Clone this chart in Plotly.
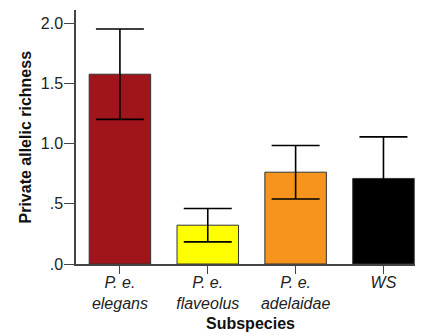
import plotly.graph_objects as go

categories = ["P. e. elegans", "P. e. flaveolus", "P. e. adelaidae", "WS"]
tick_labels = ["<i>P. e.<br>elegans</i>", "<i>P. e.<br>flaveolus</i>", "<i>P. e.<br>adelaidae</i>", "<i>WS</i>"]
means = [1.575, 0.322, 0.762, 0.71]
errors = [0.375, 0.138, 0.222, 0.345]
colors = ["#A0151B", "#FFFF00", "#F7941D", "#000000"]
y_tickvals = [0, 0.5, 1.0, 1.5, 2.0]
y_ticktext = [".0", ".5", "1.0", "1.5", "2.0"]

FONT = "Arial, 'Liberation Sans', sans-serif"

fig = go.Figure(go.Bar(
    x=categories, y=means,
    marker=dict(color=colors, line=dict(color="#333333", width=1)),
    width=0.7,
    error_y=dict(type="data", array=errors, visible=True, color="#000000", thickness=1.6, width=24),
))

fig.update_layout(
    width=415, height=327,
    margin=dict(l=68, r=0, t=2, b=71),
    paper_bgcolor="white", plot_bgcolor="white",
    showlegend=False,
    font=dict(family=FONT, size=16, color="#222222"),
    xaxis=dict(
        range=[-0.5, 3.45], tickmode="array", tickvals=categories, ticktext=tick_labels,
        showline=True, linecolor="#444444", linewidth=1.5,
        ticks="outside", ticklen=8, tickcolor="#444444", tickwidth=1,
        ticklabelstandoff=-5,
        showgrid=False, zeroline=False, automargin=False,
        tickfont=dict(size=16, family=FONT, color="#222222"),
    ),
    yaxis=dict(
        range=[0, 2.108], tickmode="array", tickvals=y_tickvals, ticktext=y_ticktext,
        showline=True, linecolor="#444444", linewidth=1.5,
        ticks="outside", ticklen=10, tickcolor="#444444", tickwidth=1,
        ticklabelstandoff=-2,
        showgrid=False, zeroline=False, automargin=False,
        tickfont=dict(size=16, family=FONT, color="#222222"),
    ),
    annotations=[
        dict(text="<b>Private allelic richness</b>", xref="paper", yref="paper",
             x=-0.1484, y=0.5, xanchor="center", yanchor="middle", textangle=-90,
             showarrow=False, font=dict(size=16, family=FONT, color="#111111")),
        dict(text="<b>Subspecies</b>", xref="paper", yref="paper",
             x=0.5035, y=-0.236, xanchor="center", yanchor="middle",
             showarrow=False, font=dict(size=16, family=FONT, color="#111111")),
    ],
)

fig.write_html("out.html")
